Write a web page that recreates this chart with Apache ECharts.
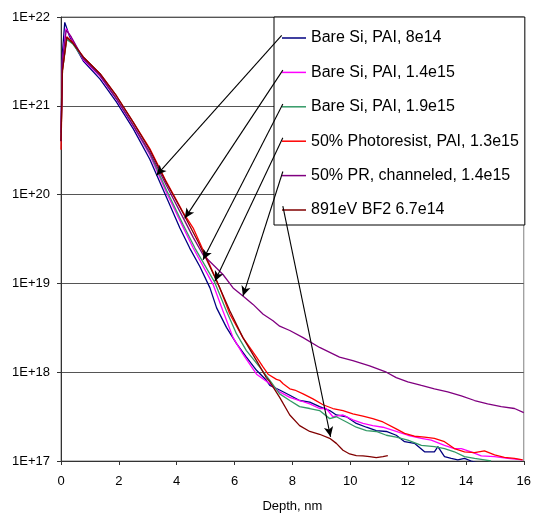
<!DOCTYPE html>
<html>
<head>
<meta charset="utf-8">
<script src="https://cdn.jsdelivr.net/npm/echarts@6/dist/echarts.min.js"></script>
<style>html,body{margin:0;padding:0;background:#fff;}#c{width:534px;height:518px;}</style>
</head>
<body>
<div id="c"></div>
<script>
// ---- Data (depth nm, concentration) ----
const seriesNames = ['Bare Si, PAI, 8e14','Bare Si, PAI, 1.4e15','Bare Si, PAI, 1.9e15','50% Photoresist, PAI, 1.3e15','50% PR, channeled, 1.4e15','891eV BF2 6.7e14'];
const seriesColors = ['#000080','#FF00FF','#339966','#FF0000','#800080','#800000'];

const bareSi8e14 = [[0,5.0e20],[0.05,4.0e21],[0.13,8.7e21],[0.3,6.0e21],[0.77,3.2e21],[1.35,2.0e21],[1.92,1.1e21],[2.5,5.5e20],[3.07,2.5e20],[3.65,9.3e19],[4.11,4.2e19],[4.45,2.5e19],[4.80,1.55e19],[5.15,8.9e18],[5.38,5.3e18],[5.72,3.2e18],[6.07,2.1e18],[6.41,1.48e18],[6.76,1.05e18],[7.10,8.1e17],[7.22,7.1e17],[7.56,6.3e17],[7.91,5.5e17],[8.25,4.8e17],[8.60,4.6e17],[8.94,4.1e17],[9.29,3.7e17],[9.52,3.3e17],[9.87,3.15e17],[10.21,2.65e17],[10.56,2.4e17],[10.90,2.2e17],[11.25,2.15e17],[11.59,1.95e17],[11.88,1.65e17],[12.22,1.58e17],[12.57,1.27e17],[12.91,1.27e17],[13.03,1.45e17],[13.26,1.12e17],[13.49,1.07e17],[13.72,1.03e17],[13.95,1.07e17],[14.18,1.0e17],[14.4,9.5e16]];
const bareSi14e15 = [[0,5.0e20],[0.05,3.2e21],[0.17,7.4e21],[0.3,6.3e21],[0.77,3.3e21],[1.35,2.15e21],[1.92,1.18e21],[2.5,5.9e20],[3.07,2.8e20],[3.65,1.05e20],[4.22,4.3e19],[4.57,2.5e19],[5.26,9.7e18],[5.60,4.9e18],[5.95,2.45e18],[6.29,1.6e18],[6.76,9.5e17],[7.22,7.4e17],[7.56,6.0e17],[7.91,5.2e17],[8.25,4.8e17],[8.60,4.4e17],[8.94,3.9e17],[9.17,3.9e17],[9.40,3.15e17],[9.75,3.3e17],[10.09,2.9e17],[10.44,2.65e17],[10.78,2.5e17],[11.13,2.4e17],[11.59,2.15e17],[11.99,1.95e17],[12.46,1.8e17],[12.80,1.72e17],[13.26,1.5e17],[13.60,1.38e17],[13.84,1.38e17],[14.18,1.27e17],[14.53,1.14e17],[14.99,1.12e17],[15.45,1.07e17],[15.96,1.03e17]];
const bareSi19e15 = [[0,4.0e20],[0.05,2.5e21],[0.2,5.6e21],[0.4,5.0e21],[0.77,3.4e21],[1.35,2.2e21],[1.92,1.2e21],[2.5,6.0e20],[3.07,2.9e20],[3.65,1.12e20],[4.22,4.6e19],[4.63,2.5e19],[5.32,1.02e19],[5.72,4.9e18],[6.07,2.7e18],[6.41,1.75e18],[6.87,1.14e18],[7.22,8.1e17],[7.56,5.7e17],[7.91,4.8e17],[8.25,4.1e17],[8.60,3.9e17],[8.94,3.7e17],[9.29,3.0e17],[9.52,3.15e17],[9.87,2.75e17],[10.21,2.4e17],[10.56,2.2e17],[10.90,2.15e17],[11.25,1.95e17],[11.59,1.86e17],[11.99,1.72e17],[12.46,1.5e17],[12.91,1.45e17],[12.97,1.5e17],[13.26,1.38e17],[13.60,1.27e17],[13.95,1.12e17],[14.30,1.07e17],[14.64,1.03e17],[14.87,1.0e17]];
const photoresist13e15 = [[0,3.2e20],[0.05,2.5e21],[0.2,6.0e21],[0.4,5.2e21],[0.77,3.55e21],[1.35,2.3e21],[1.92,1.29e21],[2.5,6.5e20],[3.07,3.3e20],[3.65,1.38e20],[4.22,6.3e19],[4.57,4.2e19],[5.14,1.62e19],[5.49,8.9e18],[5.84,4.5e18],[6.29,2.45e18],[6.76,1.48e18],[6.99,1.14e18],[7.16,9.5e17],[7.45,8.3e17],[7.56,8.1e17],[7.68,7.4e17],[7.91,6.5e17],[8.08,6.3e17],[8.37,5.7e17],[8.71,5.0e17],[9.06,4.3e17],[9.40,3.9e17],[9.75,3.7e17],[10.09,3.4e17],[10.44,3.2e17],[10.78,3.0e17],[11.13,2.75e17],[11.59,2.3e17],[11.88,2.05e17],[12.22,1.9e17],[12.57,1.86e17],[12.91,1.8e17],[13.26,1.65e17],[13.60,1.38e17],[13.95,1.27e17],[14.30,1.24e17],[14.64,1.3e17],[14.99,1.17e17],[15.33,1.1e17],[15.68,1.07e17],[15.96,1.03e17]];
const prChanneled14e15 = [[0,4.0e20],[0.05,3.2e21],[0.18,7.1e21],[0.35,6.0e21],[0.77,3.4e21],[1.35,2.2e21],[1.92,1.2e21],[2.5,6.0e20],[3.07,3.0e20],[3.65,1.26e20],[4.22,5.5e19],[4.57,3.3e19],[4.91,2.1e19],[5.26,1.62e19],[5.60,1.26e19],[5.95,8.9e18],[6.29,7.2e18],[6.64,5.8e18],[6.99,4.5e18],[7.33,3.8e18],[7.56,3.3e18],[7.91,2.95e18],[8.37,2.45e18],[8.94,1.9e18],[9.63,1.48e18],[10.09,1.35e18],[10.67,1.18e18],[11.25,1.0e18],[11.59,8.7e17],[11.99,7.8e17],[12.46,7.1e17],[12.91,6.5e17],[13.37,6.0e17],[13.84,5.4e17],[14.30,4.8e17],[14.75,4.4e17],[15.22,4.1e17],[15.68,3.9e17],[16.0,3.5e17]];
const bf2891eV = [[0,4.0e20],[0.05,2.5e21],[0.2,5.9e21],[0.4,5.1e21],[0.77,3.55e21],[1.35,2.3e21],[1.92,1.29e21],[2.5,6.5e20],[3.07,3.2e20],[3.65,1.35e20],[4.22,6.2e19],[4.74,2.95e19],[5.38,1.07e19],[5.84,4.9e18],[6.29,2.45e18],[6.76,1.35e18],[7.10,8.7e17],[7.22,7.8e17],[7.56,5.2e17],[7.91,3.3e17],[8.25,2.5e17],[8.60,2.15e17],[8.94,2.0e17],[9.29,1.8e17],[9.52,1.58e17],[9.75,1.32e17],[9.98,1.2e17],[10.21,1.15e17],[10.44,1.14e17],[10.67,1.12e17],[10.90,1.09e17],[11.13,1.12e17],[11.30,1.15e17]];

// annotation arrows: [startDepth, startConc, tipDepth, tipConc]
const arrows = [[7.63,6.2e21,3.30,1.65e20],[7.67,2.52e21,4.28,5.4e19],[7.67,1.05e21,4.91,1.85e19],[7.67,4.37e20,5.32,1.06e19],[7.67,1.82e20,6.29,7.2e18],[7.67,7.4e19,9.32,1.87e17]];

const xTicks = {min:0, max:16, interval:2};
const yRange = {min:1e17, max:1e22};

const allData = [bareSi8e14, bareSi14e15, bareSi19e15, photoresist13e15, prChanneled14e15, bf2891eV];
const FONT = 'Liberation Sans, Arial, sans-serif';

const series = allData.map((d, i) => ({
  name: seriesNames[i], type: 'line', data: d, showSymbol: false, symbol: 'none',
  lineStyle: {color: seriesColors[i], width: 1.3}, itemStyle: {color: seriesColors[i]},
  z: 3, animation: false, silent: true
}));
series.push({
  name: 'arrows', type: 'line', data: [], z: 10, silent: true, animation: false,
  markLine: {
    silent: true, animation: false, symbol: ['none','arrow'], symbolSize: [7, 10],
    label: {show: false}, emphasis: {disabled: true},
    lineStyle: {color: '#000', width: 1.1, type: 'solid'},
    data: arrows.map(a => [{coord: [a[0], a[1]]}, {coord: [a[2], a[3]]}])
  }
});

const chart = echarts.init(document.getElementById('c'), null, {renderer: 'canvas'});
chart.setOption({
  animation: false,
  backgroundColor: '#fff',
  textStyle: {fontFamily: FONT},
  grid: {left: 61, right: 10, top: 17, bottom: 54, show: true, borderColor: '#808080', borderWidth: 1, backgroundColor: 'transparent'},
  legend: {
    data: seriesNames.map(n => ({name: n, icon: 'rect'})), orient: 'vertical', left: 274, top: 17, z: 1,
    padding: [13, 6, 7, 8], itemWidth: 24, itemHeight: 1.5, itemGap: 18.4,
    backgroundColor: '#fff', borderColor: '#000', borderWidth: 1, borderRadius: 0,
    textStyle: {fontSize: 16, fontFamily: FONT, color: '#000', lineHeight: 16},
    selectedMode: false
  },
  xAxis: {
    type: 'value', min: xTicks.min, max: xTicks.max, interval: xTicks.interval,
    name: 'Depth, nm', nameLocation: 'middle', nameGap: 39,
    nameTextStyle: {fontSize: 13, fontFamily: FONT, color: '#000'},
    axisLine: {lineStyle: {color: '#333', width: 1}},
    axisTick: {show: true, length: 4, lineStyle: {color: '#333'}},
    axisLabel: {fontSize: 13, fontFamily: FONT, color: '#000', margin: 14},
    splitLine: {show: false}
  },
  yAxis: {
    type: 'log', logBase: 10, min: yRange.min, max: yRange.max,
    axisLine: {show: true, lineStyle: {color: '#333', width: 1}},
    axisTick: {show: true, length: 4, lineStyle: {color: '#333'}},
    axisLabel: {fontSize: 13, fontFamily: FONT, color: '#000', margin: 11,
      formatter: v => '1E+' + Math.round(Math.log10(v))},
    splitLine: {show: true, lineStyle: {color: '#555', width: 1}},
    minorTick: {show: false}
  },
  series: series
});
</script>
</body>
</html>
